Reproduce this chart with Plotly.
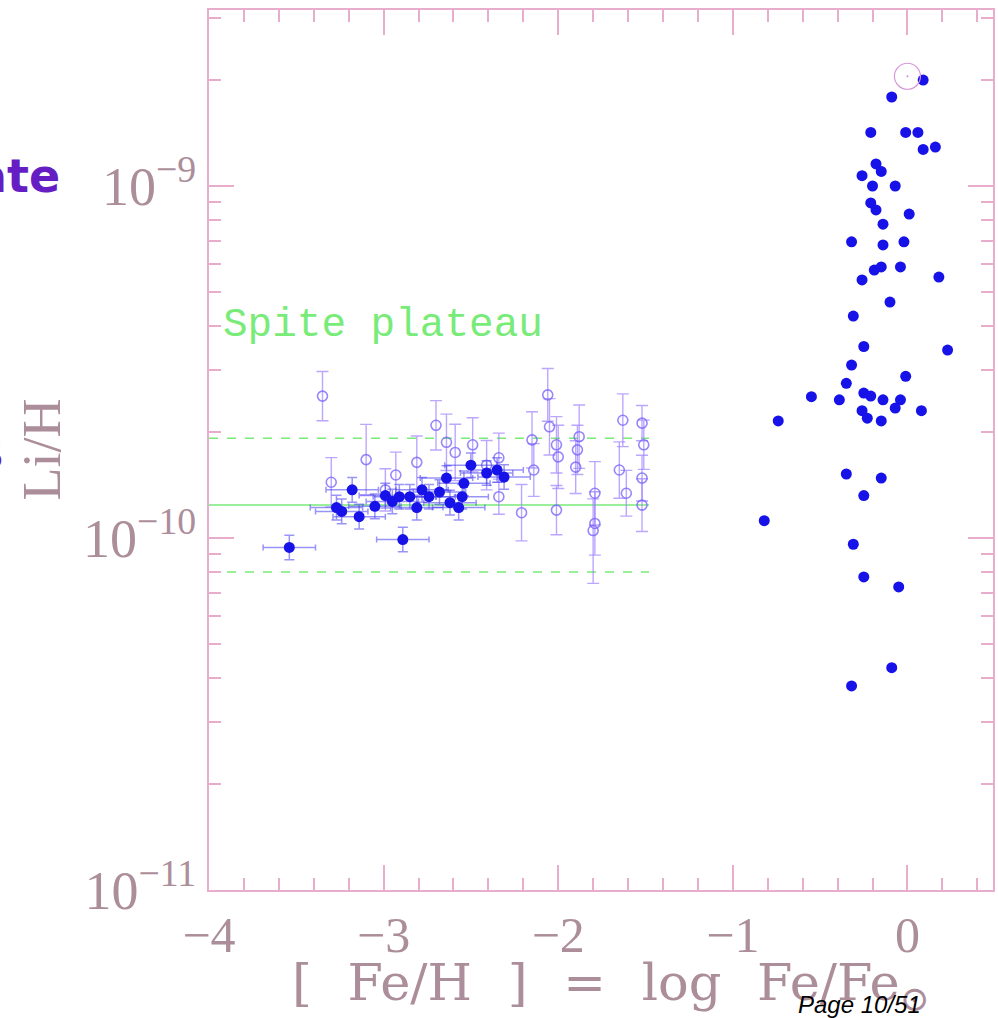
import numpy as np
import plotly.graph_objects as go

# ---- Disk stars: [Fe/H] and Li/H (no error bars) ----
disk_feh = [0.09, -0.09, -0.21, -0.01, 0.06, 0.09, 0.16, -0.18, -0.15, -0.26,
            -0.20, -0.07, -0.21, -0.18, 0.01, -0.14, -0.32, -0.14, -0.02, -0.19,
            -0.15, -0.04, -0.26, 0.18, -0.10, -0.31, -0.25, 0.23, -0.32, -0.01,
            -0.35, -0.55, -0.39, -0.25, -0.21, -0.14, -0.04, -0.07, 0.08, -0.26,
            -0.23, -0.15, -0.74, -0.35, -0.15, -0.25, -0.82, -0.31, -0.25, -0.05,
            -0.09, -0.32]
disk_li = [2.0e-9, 1.79e-9, 1.42e-9, 1.42e-9, 1.42e-9, 1.27e-9, 1.29e-9, 1.155e-9, 1.10e-9, 1.07e-9,
           1.0e-9, 1.0e-9, 8.95e-10, 8.55e-10, 8.32e-10, 7.79e-10, 6.94e-10, 6.80e-10, 6.94e-10, 5.77e-10,
           5.89e-10, 5.89e-10, 5.41e-10, 5.51e-10, 4.68e-10, 4.27e-10, 3.50e-10, 3.42e-10, 3.10e-10, 2.88e-10,
           2.75e-10, 2.52e-10, 2.47e-10, 2.58e-10, 2.53e-10, 2.47e-10, 2.47e-10, 2.34e-10, 2.30e-10, 2.30e-10,
           2.19e-10, 2.15e-10, 2.15e-10, 1.52e-10, 1.48e-10, 1.32e-10, 1.12e-10, 9.6e-11, 7.75e-11, 7.26e-11,
           4.28e-11, 3.80e-11]

# ---- Halo dwarfs, filled symbols with [Fe/H] and Li errors ----
halo_feh = [-3.54, -3.24, -3.14, -3.18, -3.05, -2.99, -2.89, -2.91, -2.85, -2.81,
            -2.74, -2.64, -2.57, -2.55, -2.54, -2.50, -2.41, -2.35, -2.31, -2.68,
            -3.27, -2.95, -2.78, -2.62]
halo_li = [9.4e-11, 1.19e-10, 1.15e-10, 1.37e-10, 1.23e-10, 1.32e-10, 9.9e-11, 1.31e-10, 1.31e-10, 1.22e-10,
           1.31e-10, 1.48e-10, 1.22e-10, 1.31e-10, 1.43e-10, 1.61e-10, 1.53e-10, 1.56e-10, 1.49e-10, 1.35e-10,
           1.22e-10, 1.27e-10, 1.37e-10, 1.26e-10]
halo_feh_err = 0.15      # dex in [Fe/H]
halo_li_err_dex = 0.035  # dex in log Li/H

# ---- Halo dwarfs, open symbols with Li errors (dex) ----
open_feh = [-3.35, -3.30, -3.10, -2.99, -2.81, -2.70, -2.64, -2.59, -2.49, -2.41,
            -2.34, -2.34, -2.21, -2.15, -2.14, -2.06, -2.05, -2.01, -2.00, -2.01,
            -1.88, -1.89, -1.90, -1.79, -1.79, -1.80, -1.63, -1.65, -1.61, -1.52,
            -1.51, -1.52, -1.52, -2.93]
open_li = [2.53e-10, 1.44e-10, 1.67e-10, 1.37e-10, 1.64e-10, 2.09e-10, 1.87e-10, 1.75e-10, 1.84e-10, 1.61e-10,
           1.69e-10, 1.31e-10, 1.18e-10, 1.90e-10, 1.56e-10, 2.55e-10, 2.07e-10, 1.84e-10, 1.70e-10, 1.20e-10,
           1.94e-10, 1.78e-10, 1.59e-10, 1.34e-10, 1.10e-10, 1.05e-10, 2.16e-10, 1.56e-10, 1.34e-10, 2.12e-10,
           1.84e-10, 1.48e-10, 1.24e-10, 1.51e-10]
open_err_up = [0.07, 0.07, 0.10, 0.06, 0.075, 0.07, 0.08, 0.08, 0.077, 0.07,
               0.07, 0.05, 0.08, 0.08, 0.075, 0.075, 0.08, 0.08, 0.09, 0.07,
               0.09, 0.07, 0.075, 0.09, 0.09, 0.09, 0.075, 0.08, 0.065, 0.05,
               0.07, 0.065, 0.075, 0.065]
open_err_dn = [0.07, 0.07, 0.10, 0.06, 0.075, 0.07, 0.08, 0.08, 0.077, 0.07,
               0.07, 0.05, 0.08, 0.08, 0.075, 0.075, 0.08, 0.08, 0.09, 0.07,
               0.09, 0.07, 0.075, 0.09, 0.09, 0.15, 0.075, 0.08, 0.065, 0.05,
               0.07, 0.065, 0.075, 0.065]

# ---- Sun (meteoritic value) ----
sun_feh = [0.0]
sun_li = [2.05e-9]

# ---- Spite plateau level and its band ----
plateau_li = 1.24e-10
plateau_hi = 1.92e-10
plateau_lo = 8.0e-11
plateau_feh = [-4.0, -1.48]

x_tickvals = [-4, -3, -2, -1, 0]
x_ticktext = ["\u22124", "\u22123", "\u22122", "\u22121", "0"]
y_tickvals = [1e-11, 1e-10, 1e-9]
y_ticktext = ["10<sup>\u221211</sup>", "10<sup>\u221210</sup>", "10<sup>\u22129</sup>"]

AXIS = "rgb(232,172,205)"
LABEL = "rgb(172,142,154)"
BLUE = "rgb(22,18,232)"
GREEN = "rgb(120,235,120)"
PURPLE = "rgb(100,30,195)"
GAP = "\u2002\u2009"


def log_err(vals, dex):
    v = np.asarray(vals, dtype=float)
    d = np.broadcast_to(np.asarray(dex, dtype=float), v.shape)
    return v * (10 ** d - 1), v * (1 - 10 ** (-d))


fig = go.Figure()

# plateau: solid mean level and dashed limits
fig.add_trace(go.Scatter(x=plateau_feh, y=[plateau_li] * 2, mode="lines",
                         line=dict(color=GREEN, width=1.5), hoverinfo="skip"))
for lvl in (plateau_hi, plateau_lo):
    fig.add_trace(go.Scatter(x=plateau_feh, y=[lvl] * 2, mode="lines",
                             line=dict(color=GREEN, width=1.5, dash="dash"), hoverinfo="skip"))

# open symbols with vertical error bars
up, _ = log_err(open_li, open_err_up)
_, dn = log_err(open_li, open_err_dn)
fig.add_trace(go.Scatter(
    x=open_feh, y=open_li, mode="markers",
    marker=dict(symbol="circle-open", size=10, color="rgba(115,95,250,0.75)", line=dict(width=1.6)),
    error_y=dict(type="data", symmetric=False, array=up, arrayminus=dn,
                 color="rgba(160,130,255,0.7)", thickness=1.4, width=6),
))

# filled halo symbols with both error bars
hup, hdn = log_err(halo_li, halo_li_err_dex)
fig.add_trace(go.Scatter(
    x=halo_feh, y=halo_li, mode="markers",
    marker=dict(symbol="circle", size=11, color=BLUE),
    error_x=dict(type="constant", value=halo_feh_err, color="rgba(70,60,240,0.55)",
                 thickness=1.5, width=3),
    error_y=dict(type="data", symmetric=False, array=hup, arrayminus=hdn,
                 color="rgba(70,60,240,0.55)", thickness=1.5, width=5),
))

# disk stars
fig.add_trace(go.Scatter(
    x=disk_feh, y=disk_li, mode="markers",
    marker=dict(symbol="circle", size=11, color=BLUE),
))

# Sun
fig.add_trace(go.Scatter(
    x=sun_feh, y=sun_li, mode="markers",
    marker=dict(symbol="circle-open-dot", size=26, color="rgb(215,150,215)", line=dict(width=1.2)),
))

fig.update_layout(
    width=998, height=1018, autosize=False,
    margin=dict(l=209, r=3, t=10, b=128),
    paper_bgcolor="white", plot_bgcolor="white",
    showlegend=False,
    xaxis=dict(
        range=[-4, 0.49], tickmode="array", tickvals=x_tickvals, ticktext=x_ticktext,
        ticks="inside", ticklen=25, tickwidth=1.5, tickcolor=AXIS,
        minor=dict(dtick=0.2, tick0=0, ticks="inside", ticklen=12, tickwidth=1.5, tickcolor=AXIS),
        showline=True, linecolor=AXIS, linewidth=2, mirror="allticks",
        showgrid=False, zeroline=False,
        tickfont=dict(family="Liberation Serif, serif", size=50, color=LABEL),
    ),
    yaxis=dict(
        type="log", range=[-11, -8.5], tickmode="array", tickvals=y_tickvals, ticktext=y_ticktext,
        ticks="inside", ticklen=25, tickwidth=1.5, tickcolor=AXIS,
        minor=dict(tickmode="array",
                   tickvals=[m * 10.0 ** e for e in (-11, -10, -9) for m in range(2, 10)],
                   ticks="inside", ticklen=12, tickwidth=1.5, tickcolor=AXIS),
        showline=True, linecolor=AXIS, linewidth=2, mirror="allticks",
        showgrid=False, zeroline=False,
        tickfont=dict(family="Liberation Serif, serif", size=54, color=LABEL),
    ),
)

x_title = GAP.join(["[", "Fe/H", "]", "=", "log", "Fe/Fe<sub>\u2299</sub>"])

annotations = [
    dict(text="Spite plateau", x=-3.93, y=np.log10(4.03e-10), xref="x", yref="y",
         xanchor="left", yanchor="middle", showarrow=False,
         font=dict(family="Liberation Mono, monospace", size=41, color=GREEN)),
    dict(text=x_title, x=(612 - 209) / 786, y=-(986 - 890) / 880,
         xref="paper", yref="paper", xanchor="center", yanchor="middle", showarrow=False,
         font=dict(family="DejaVu Serif, serif", size=51, color=LABEL)),
    dict(text="Li/H", x=(42 - 209) / 786, y=(890 - 449) / 880, xref="paper", yref="paper",
         xanchor="center", yanchor="middle", textangle=-90, showarrow=False,
         font=dict(family="Liberation Serif, serif", size=54, color=LABEL)),
    dict(text="ate", x=(62 - 209) / 786, y=(890 - 176) / 880, xref="paper", yref="paper",
         xanchor="right", yanchor="middle", showarrow=False,
         font=dict(family="DejaVu Sans, sans-serif", size=46, color=PURPLE, weight=600)),
    dict(text="s", x=(4 - 209) / 786, y=(890 - 452) / 880, xref="paper", yref="paper",
         xanchor="right", yanchor="middle", showarrow=False,
         font=dict(family="DejaVu Sans, sans-serif", size=46, color=PURPLE, weight=600)),
    dict(text="<i>Page 10/51</i>", x=(925 - 209) / 786, y=-(1004 - 890) / 880,
         xref="paper", yref="paper", xanchor="right", yanchor="middle", showarrow=False,
         font=dict(family="Liberation Sans Narrow, Liberation Sans, Arial, sans-serif", size=24,
                   color="black")),
]
fig.update_layout(annotations=annotations)

fig.write_html("out.html")
